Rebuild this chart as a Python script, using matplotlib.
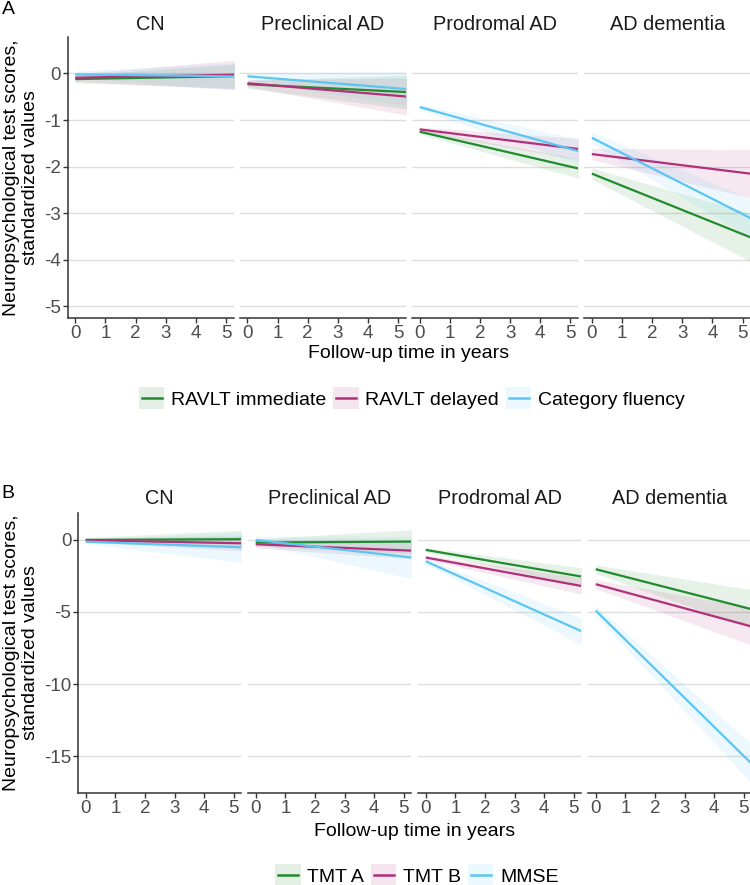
import numpy as np
import matplotlib
matplotlib.use("Agg")
import matplotlib.pyplot as plt
from matplotlib.patches import Rectangle
from matplotlib.lines import Line2D
from matplotlib.legend_handler import HandlerBase

plt.rcParams['font.family'] = ['Liberation Sans', 'DejaVu Sans']

stages = ["CN", "Preclinical AD", "Prodromal AD", "AD dementia"]
x_ticks = [0, 1, 2, 3, 4, 5]

# ---- Panel A: fitted values at baseline (year 0) and year 5, CI half widths
tests_a = ["RAVLT immediate", "RAVLT delayed", "Category fluency"]
ravlt_imm_y0 = [-0.12, -0.23, -1.25, -2.15]
ravlt_imm_y5 = [-0.06, -0.39, -2.00, -3.45]
ravlt_imm_ci0 = [0.08, 0.08, 0.05, 0.12]
ravlt_imm_ci5 = [0.25, 0.35, 0.20, 0.50]

ravlt_del_y0 = [-0.09, -0.21, -1.20, -1.73]
ravlt_del_y5 = [-0.03, -0.48, -1.60, -2.13]
ravlt_del_ci0 = [0.08, 0.08, 0.05, 0.12]
ravlt_del_ci5 = [0.30, 0.38, 0.22, 0.50]

cat_flu_y0 = [-0.02, -0.06, -0.72, -1.38]
cat_flu_y5 = [-0.06, -0.32, -1.62, -3.02]
cat_flu_ci0 = [0.07, 0.08, 0.06, 0.13]
cat_flu_ci5 = [0.28, 0.35, 0.25, 0.40]

yticks_a = [0, -1, -2, -3, -4, -5]

# ---- Panel B
tests_b = ["TMT A", "TMT B", "MMSE"]
tmt_a_y0 = [0.00, -0.18, -0.69, -2.03]
tmt_a_y5 = [0.05, -0.12, -2.45, -4.67]
tmt_a_ci0 = [0.15, 0.25, 0.15, 0.30]
tmt_a_ci5 = [0.60, 0.80, 0.60, 1.30]

tmt_b_y0 = [-0.02, -0.30, -1.22, -3.07]
tmt_b_y5 = [-0.22, -0.72, -3.10, -5.86]
tmt_b_ci0 = [0.15, 0.25, 0.15, 0.30]
tmt_b_ci5 = [0.50, 0.55, 0.55, 1.25]

mmse_y0 = [-0.12, 0.00, -1.48, -4.90]
mmse_y5 = [-0.49, -1.16, -6.10, -15.00]
mmse_ci0 = [0.15, 0.25, 0.20, 0.35]
mmse_ci5 = [1.00, 1.40, 0.90, 1.30]

yticks_b = [0, -5, -10, -15]

colors = ["#228B2E", "#B0307A", "#5BC6F0"]

W, H = 750, 885
fig = plt.figure(figsize=(W / 100, H / 100), dpi=100)

TICK_FS = 13.5
TITLE_FS = 14
STRIP_FS = 14.3
LEG_FS = 14


class KeyHandler(HandlerBase):
    """ggplot-like key: light filled square with a line through the middle."""
    def create_artists(self, legend, orig_handle, xdescent, ydescent, width, height,
                       fontsize, trans):
        col = orig_handle.get_color()
        side = height
        x0 = -xdescent
        y0 = -ydescent + (height - side) / 2
        rect = Rectangle((x0, y0), width, side, facecolor=col, alpha=0.12,
                         edgecolor="none", transform=trans)
        ym = y0 + side / 2
        line = Line2D([x0 + width * 0.1, x0 + width * 0.9], [ym, ym], color=col,
                      lw=1.8, transform=trans)
        return [rect, line]


def px_ax(left, top, width, height):
    return fig.add_axes([left / W, 1 - (top + height) / H, width / W, height / H])


def draw_block(lefts, width, top, bottom, series, yticks, ylim, tests,
               xlabel_y, legend_y, legend_cx, panel_letter, letter_y, strip_y):
    height = bottom - top
    xs = np.linspace(0, 5.6, 60)
    for i, stage in enumerate(stages):
        ax = px_ax(lefts[i], top, width, height)
        ax.set_xlim(-0.25, 5.25)
        ax.set_ylim(*ylim)
        for yt in yticks:
            ax.axhline(yt, color="#DEDEDE", lw=1.0, zorder=0)
        for (y0, y5, c0, c5), col in zip(series, colors):
            slope = (y5[i] - y0[i]) / 5.0
            yy = y0[i] + slope * xs
            cw = c0[i] + (c5[i] - c0[i]) / 5.0 * xs
            ax.fill_between(xs, yy - cw, yy + cw, color=col, alpha=0.11, lw=0, zorder=1)
        for (y0, y5, c0, c5), col in zip(series, colors):
            slope = (y5[i] - y0[i]) / 5.0
            yy = y0[i] + slope * xs
            ax.plot(xs, yy, color=col, lw=1.6, zorder=3, solid_capstyle="butt")
        for s in ["top", "right"]:
            ax.spines[s].set_visible(False)
        ax.spines["bottom"].set_color("#333333")
        ax.spines["bottom"].set_linewidth(1.1)
        ax.set_xticks(x_ticks)
        ax.tick_params(axis="x", length=3.5, width=1.0, color="#333333",
                       labelsize=TICK_FS, labelcolor="#4D4D4D", pad=1.5)
        if i == 0:
            ax.spines["left"].set_color("#333333")
            ax.spines["left"].set_linewidth(1.1)
            ax.set_yticks(yticks)
            ax.set_yticklabels([str(v) for v in yticks])
            ax.tick_params(axis="y", length=3.5, width=1.0, color="#333333",
                           labelsize=TICK_FS, labelcolor="#4D4D4D", pad=1.5)
        else:
            ax.spines["left"].set_visible(False)
            ax.set_yticks([])
        cx = (lefts[i] + width / 2) / W
        fig.text(cx, 1 - strip_y / H, stage, ha="center", va="center",
                 fontsize=STRIP_FS, color="#1A1A1A")
    # y label
    ymid = (top + bottom) / 2
    fig.text(21 / W, 1 - ymid / H, "Neuropsychological test scores,\nstandardized values",
             rotation=90, ha="center", va="center", multialignment="center",
             fontsize=TITLE_FS, color="black", linespacing=1.1)
    # x label
    xc = (lefts[0] + lefts[-1] + width) / 2 / W
    fig.text(xc, 1 - xlabel_y / H, "Follow-up time in years", ha="center", va="center",
             fontsize=TITLE_FS, color="black")
    # legend
    handles = [Line2D([0], [0], color=col, lw=1.8) for col in colors]
    fig.legend(handles, tests, handler_map={Line2D: KeyHandler()},
               loc="center", bbox_to_anchor=(legend_cx / W, 1 - legend_y / H),
               ncol=3, frameon=False, fontsize=LEG_FS, handlelength=1.3, handleheight=1.3,
               handletextpad=0.35, columnspacing=0.35, borderpad=0, borderaxespad=0)
    fig.text(8 / W, 1 - letter_y / H, panel_letter, ha="center", va="center",
             fontsize=14, color="black")


series_a = [(ravlt_imm_y0, ravlt_imm_y5, ravlt_imm_ci0, ravlt_imm_ci5),
            (ravlt_del_y0, ravlt_del_y5, ravlt_del_ci0, ravlt_del_ci5),
            (cat_flu_y0, cat_flu_y5, cat_flu_ci0, cat_flu_ci5)]
series_b = [(tmt_a_y0, tmt_a_y5, tmt_a_ci0, tmt_a_ci5),
            (tmt_b_y0, tmt_b_y5, tmt_b_ci0, tmt_b_ci5),
            (mmse_y0, mmse_y5, mmse_ci0, mmse_ci5)]

lefts_a = [67.7 + k * 172.2 for k in range(4)]
draw_block(lefts_a, 165.8, 36.7, 318.0, series_a, yticks_a, (-5.25, 0.79), tests_a,
           xlabel_y=354, legend_y=398, legend_cx=412, panel_letter="A", letter_y=10, strip_y=24)

lefts_b = [78.3 + k * 170.0 for k in range(4)]
draw_block(lefts_b, 163.0, 512.7, 793.3, series_b, yticks_b, (-17.58, 1.89), tests_b,
           xlabel_y=832, legend_y=875, legend_cx=417, panel_letter="B", letter_y=494, strip_y=498)

fig.savefig("out.png", dpi=100)
